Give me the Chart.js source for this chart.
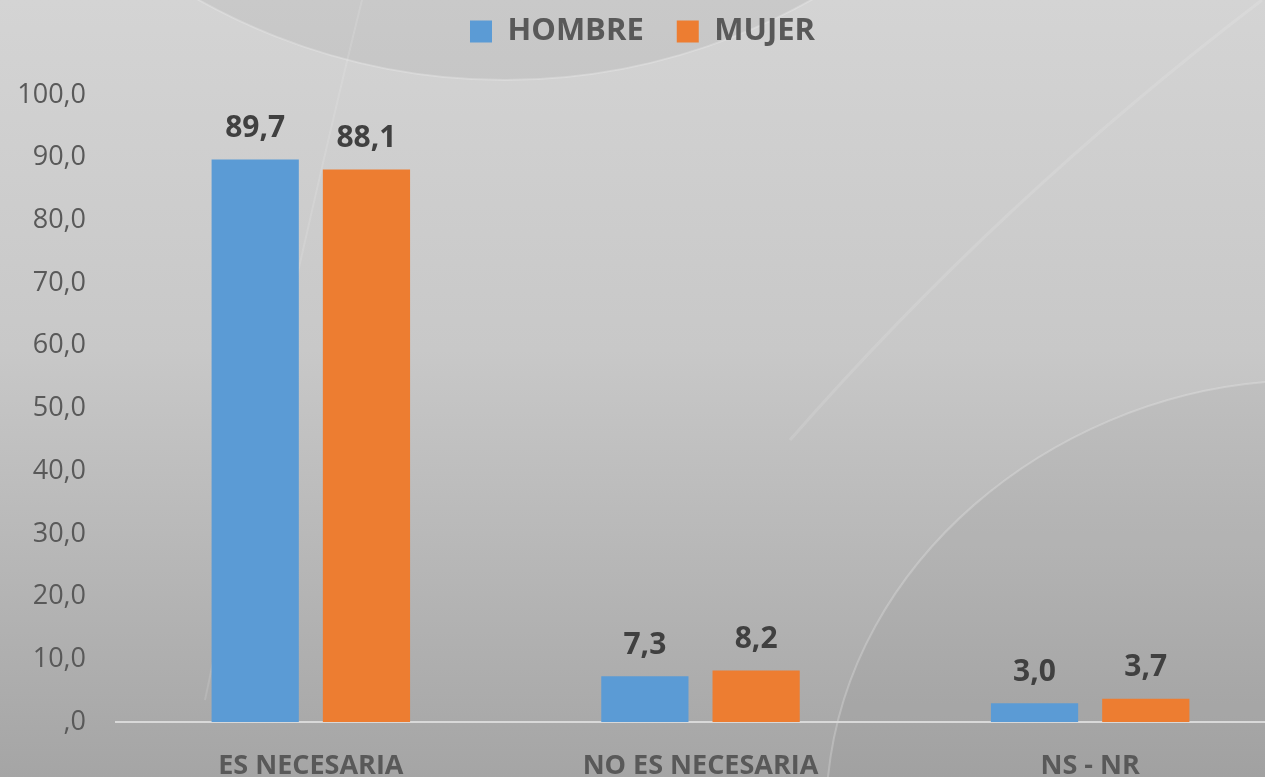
<!DOCTYPE html>
<html>
<head>
<meta charset="utf-8">
<script src="https://cdn.jsdelivr.net/npm/chart.js@4.4.1/dist/chart.umd.min.js"></script>
<style>
  html, body { margin: 0; padding: 0; overflow: hidden; background: #bdbdbd; }
  #wrap { width: 1285px; height: 777px; position: relative; }
</style>
</head>
<body>
<div id="wrap"><canvas id="grafico"></canvas></div>
<script>
// datos
const categorias = ['ES NECESARIA', 'NO ES NECESARIA', 'NS - NR'];
const hombre = [89.7, 7.3, 3.0];
const mujer = [88.1, 8.2, 3.7];
const series = ['HOMBRE', 'MUJER'];

const coma = v => v === 0 ? ',0' : v.toFixed(1).replace('.', ',');

// fondo gris con curvas
const fondo = {
  id: 'fondo',
  beforeDraw(chart) {
    const c = chart.ctx, w = chart.width, h = chart.height;
    c.save();
    let g = c.createLinearGradient(0, 0, 0, h);
    g.addColorStop(0, '#d4d4d4');
    g.addColorStop(0.45, '#c8c8c8');
    g.addColorStop(1, '#a5a5a5');
    c.fillStyle = g;
    c.fillRect(0, 0, w, h);
    // zona superior oscura
    c.beginPath();
    c.arc(505, -545, 625, 0, Math.PI * 2);
    c.fillStyle = 'rgba(140,140,140,0.16)';
    c.fill();
    c.strokeStyle = 'rgba(255,255,255,0.22)';
    c.lineWidth = 2;
    c.stroke();
    // arco grande abajo a la derecha
    c.beginPath();
    c.moveTo(828, 777);
    c.bezierCurveTo(850, 560, 1050, 400, 1265, 382);
    c.lineTo(1300, 382);
    c.lineTo(1300, 777);
    c.closePath();
    c.fillStyle = 'rgba(120,120,120,0.07)';
    c.fill();
    c.beginPath();
    c.moveTo(828, 777);
    c.bezierCurveTo(850, 560, 1050, 400, 1265, 382);
    c.strokeStyle = 'rgba(255,255,255,0.22)';
    c.stroke();
    // lineas diagonales claras
    c.strokeStyle = 'rgba(255,255,255,0.12)';
    c.lineWidth = 3;
    c.beginPath(); c.moveTo(1262, 0); c.quadraticCurveTo(1000, 200, 790, 440); c.stroke();
    c.lineWidth = 2;
    c.beginPath(); c.moveTo(362, 0); c.quadraticCurveTo(300, 250, 205, 700); c.stroke();
    c.restore();
  }
};

// etiquetas de valor
const valores = {
  id: 'valores',
  afterDatasetsDraw(chart) {
    const c = chart.ctx;
    c.save();
    c.font = 'bold 30px "Open Sans"';
    c.fillStyle = '#404040';
    c.textAlign = 'center';
    c.textBaseline = 'bottom';
    chart.data.datasets.forEach((ds, i) => {
      chart.getDatasetMeta(i).data.forEach((bar, j) => {
        c.fillText(coma(ds.data[j]), bar.x, bar.y - 16);
      });
    });
    c.restore();
  }
};

// espacio debajo de la leyenda y leyenda mas arriba
const ajusteLeyenda = {
  id: 'ajusteLeyenda',
  beforeInit(chart) {
    const fit = chart.legend.fit;
    chart.legend.fit = function () {
      fit.bind(chart.legend)();
      this.height += 21;
    };
  },
  afterLayout(chart) {
    chart.legend.top -= 17;
  }
};

new Chart(document.getElementById('grafico'), {
  type: 'bar',
  data: {
    labels: categorias,
    datasets: [
      { label: series[0], data: hombre, backgroundColor: '#5b9bd5' },
      { label: series[1], data: mujer, backgroundColor: '#ed7d31' }
    ]
  },
  options: {
    responsive: true,
    maintainAspectRatio: false,
    animation: false,
    layout: { padding: 0 },
    datasets: { bar: { categoryPercentage: 0.571, barPercentage: 0.784 } },
    plugins: {
      legend: {
        labels: {
          boxWidth: 22,
          boxHeight: 22,
          padding: 33,
          color: '#595959',
          font: { family: '"Open Sans"', size: 31, weight: 'bold' }
        }
      },
      tooltip: { enabled: false }
    },
    scales: {
      x: {
        grid: { display: false, drawTicks: false },
        border: { color: '#d9d9d9', width: 2 },
        ticks: {
          color: '#595959',
          padding: 28,
          font: { family: '"Open Sans"', size: 27, weight: 'bold' }
        },
        afterFit(scale) { scale.height = 55; }
      },
      y: {
        min: 0,
        max: 100,
        grid: { display: false, drawTicks: false },
        border: { display: false },
        ticks: {
          stepSize: 10,
          color: '#595959',
          padding: 30,
          font: { family: '"Open Sans"', size: 27 },
          callback: v => coma(v)
        },
        afterFit(scale) { scale.width = 116; }
      }
    }
  },
  plugins: [fondo, valores, ajusteLeyenda]
});
</script>
</body>
</html>
